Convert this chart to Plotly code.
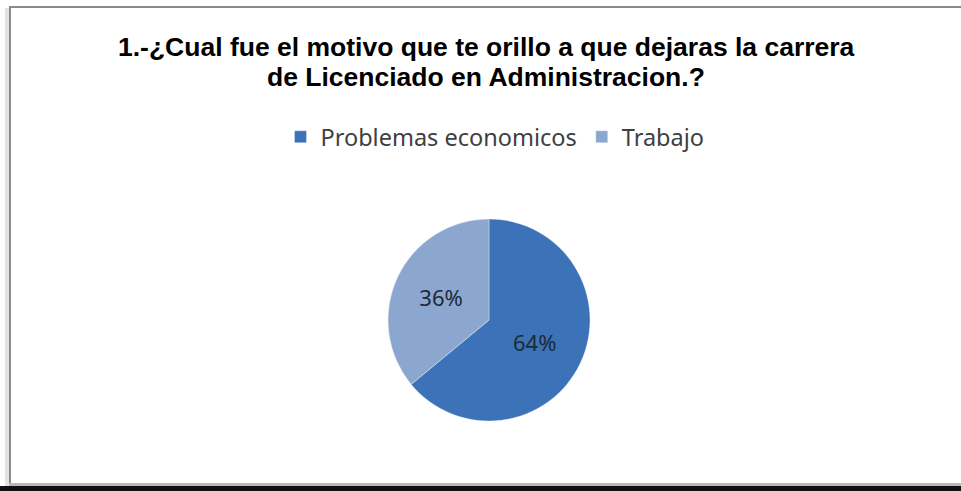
import plotly.graph_objects as go

labels = ["Problemas economicos", "Trabajo"]
values = [64, 36]
colors = ["#3c72b8", "#8ca7cf"]
title_lines = ["1.-¿Cual fue el motivo que te orillo a que dejaras la carrera",
               "de Licenciado en Administracion.?"]

W, H = 961, 491

def px(x):
    return x / W

def py(y):
    return 1 - y / H

fig = go.Figure()
fig.add_trace(go.Pie(
    labels=labels,
    values=values,
    sort=False,
    direction="clockwise",
    rotation=0,
    marker=dict(colors=colors, line=dict(color="rgba(255,255,255,0.35)", width=1)),
    textinfo="percent",
    texttemplate="%{percent:.0%}",
    textposition="inside",
    insidetextorientation="horizontal",
    insidetextfont=dict(family="Noto Sans, Open Sans, sans-serif", size=22, color="#1c2a3a"),
    domain=dict(x=[px(388), px(590)], y=[py(421), py(219)]),
    hoverinfo="label+percent",
))

shapes = [
    dict(type="rect", xref="paper", yref="paper", x0=0, x1=1, y0=0, y1=py(486),
         fillcolor="#111111", line=dict(width=0), layer="below"),
    dict(type="rect", xref="paper", yref="paper", x0=px(8), x1=1, y0=py(486), y1=py(483),
         fillcolor="#b8b8b8", line=dict(width=0), layer="below"),
    dict(type="rect", xref="paper", yref="paper", x0=px(5), x1=px(9), y0=py(486), y1=py(8),
         fillcolor="#e2e2e2", line=dict(width=0), layer="below"),
    dict(type="rect", xref="paper", yref="paper", x0=px(9), x1=px(11), y0=py(483), y1=py(6),
         fillcolor="#8a8a8a", line=dict(width=0), layer="below"),
    dict(type="rect", xref="paper", yref="paper", x0=px(9), x1=1, y0=py(8), y1=py(6),
         fillcolor="#8a8a8a", line=dict(width=0), layer="below"),
]

title_font = dict(family="Liberation Sans, Arial, sans-serif", size=26.5, color="#000000")
annotations = [
    dict(text="<b>" + title_lines[0] + "</b>", xref="paper", yref="paper",
         x=px(486), y=py(47), xanchor="center", yanchor="middle",
         showarrow=False, font=title_font),
    dict(text="<b>" + title_lines[1] + "</b>", xref="paper", yref="paper",
         x=px(486), y=py(77), xanchor="center", yanchor="middle",
         showarrow=False, font=title_font),
]

fig.update_layout(
    width=W, height=H,
    margin=dict(l=0, r=0, t=0, b=0),
    paper_bgcolor="white",
    plot_bgcolor="white",
    showlegend=True,
    legend=dict(orientation="h", x=px(495), xanchor="center", y=py(137), yanchor="middle",
                font=dict(family="Noto Sans, Open Sans, sans-serif", size=23.5, color="#404040"),
                itemwidth=30, traceorder="normal", itemclick=False),
    shapes=shapes,
    annotations=annotations,
)

fig.write_html("out.html", config={"displayModeBar": False},
               post_script="document.body.style.margin='0';")
